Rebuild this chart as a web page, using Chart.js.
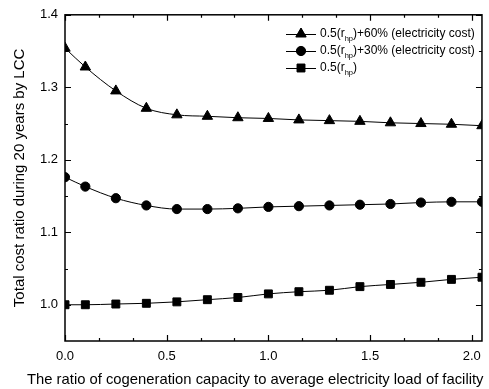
<!DOCTYPE html>
<html lang="en">
<head>
  <meta charset="UTF-8" />
  <title>Total cost ratio by LCC</title>
  <script src="https://cdn.jsdelivr.net/npm/chart.js"></script>
  <style>
    html, body { margin: 0; padding: 0; background: #fff; }
    #wrap { width: 489px; height: 389px; position: relative; }
  </style>
</head>
<body>
  <div id="wrap"><canvas id="costChart"></canvas></div>

  <script>
    // capacity ratio (x) shared by all three series
    const capacityRatio = [0, 0.1, 0.25, 0.4, 0.55, 0.7, 0.85, 1.0, 1.15, 1.3, 1.45, 1.6, 1.75, 1.9, 2.05];
    const cost60 = [1.354, 1.328, 1.295, 1.271, 1.262, 1.260, 1.258, 1.257, 1.255, 1.254, 1.253, 1.251, 1.250, 1.249, 1.247];
    const cost30 = [1.176, 1.163, 1.147, 1.137, 1.132, 1.132, 1.133, 1.135, 1.136, 1.137, 1.138, 1.139, 1.141, 1.142, 1.142];
    const costBase = [1.000, 1.000, 1.001, 1.002, 1.004, 1.007, 1.010, 1.015, 1.018, 1.020, 1.025, 1.028, 1.031, 1.035, 1.038];

    const xTicks = [0, 0.5, 1.0, 1.5, 2.0];
    const yTicks = [1.0, 1.1, 1.2, 1.3, 1.4];
    const xTitle = "The ratio of cogeneration capacity to average electricity load of facility";
    const yTitle = "Total cost ratio during 20 years by LCC";
    const seriesLabels = [
      ["0.5(r", "hp", ")+60% (electricity cost)"],
      ["0.5(r", "hp", ")+30% (electricity cost)"],
      ["0.5(r", "hp", ")"]
    ];
    const seriesMarkers = ["triangle", "circle", "rect"];
    const markerSizes = [6, 4.6, 5.6];

    const FONT = "'Liberation Sans', Arial, sans-serif";

    function toPoints(ys) {
      return capacityRatio.map((x, i) => ({ x: x, y: ys[i] }));
    }

    // frame + inward ticks on all four sides, Origin style
    const framePlugin = {
      id: "frame",
      afterDraw(chart) {
        const { ctx, chartArea: a, scales: { x, y } } = chart;
        ctx.save();
        ctx.strokeStyle = "#000";
        ctx.lineWidth = 1.5;
        ctx.strokeRect(a.left, a.top, a.right - a.left, a.bottom - a.top);
        ctx.lineWidth = 1.2;
        ctx.beginPath();
        for (let k = 0; k <= 12; k++) {
          const v = k / 6;
          const px = Math.round(x.getPixelForValue(v)) + 0.5;
          const len = (k % 3 === 0) ? 6 : 3;
          ctx.moveTo(px, a.bottom); ctx.lineTo(px, a.bottom - len);
          ctx.moveTo(px, a.top); ctx.lineTo(px, a.top + len);
        }
        for (let k = 0; k <= 8; k++) {
          const v = 1.0 + k * 0.05;
          const py = Math.round(y.getPixelForValue(v)) + 0.5;
          const len = (k % 2 === 0) ? 6 : 3;
          ctx.moveTo(a.left, py); ctx.lineTo(a.left + len, py);
          ctx.moveTo(a.right, py); ctx.lineTo(a.right - len, py);
        }
        ctx.stroke();

        // x axis title, left-anchored like the original figure (runs to the right edge)
        ctx.fillStyle = "#000";
        ctx.font = "14.8px " + FONT;
        ctx.textAlign = "left";
        ctx.textBaseline = "middle";
        ctx.fillText(xTitle, 27, 380);
        ctx.restore();
      }
    };

    // legend with subscripted "hp"
    const legendPlugin = {
      id: "subLegend",
      afterDraw(chart) {
        const ctx = chart.ctx;
        const rows = [34, 51, 68];
        const lineX0 = 286, lineX1 = 316, textX = 320;
        ctx.save();
        rows.forEach((ry, i) => {
          ctx.strokeStyle = "#000";
          ctx.lineWidth = 1;
          ctx.beginPath();
          ctx.moveTo(lineX0, ry + 0.5); ctx.lineTo(lineX1, ry + 0.5);
          ctx.stroke();
          ctx.fillStyle = "#000";
          Chart.helpers.drawPoint(ctx, { pointStyle: seriesMarkers[i], radius: markerSizes[i], rotation: 0, borderWidth: 1 }, (lineX0 + lineX1) / 2, ry);
          ctx.fill();
          const [a, sub, b] = seriesLabels[i];
          ctx.textBaseline = "middle";
          ctx.textAlign = "left";
          ctx.font = "12px " + FONT;
          let tx = textX;
          ctx.fillText(a, tx, ry);
          tx += ctx.measureText(a).width;
          ctx.font = "7.5px " + FONT;
          ctx.fillText(sub, tx, ry + 5);
          tx += ctx.measureText(sub).width;
          ctx.font = "12px " + FONT;
          ctx.fillText(b, tx, ry);
        });
        ctx.restore();
      }
    };

    function makeSet(label, ys, idx) {
      return {
        label: label,
        data: toPoints(ys),
        borderColor: "#000",
        backgroundColor: "#000",
        borderWidth: 1,
        pointStyle: seriesMarkers[idx],
        pointRadius: markerSizes[idx],
        pointBackgroundColor: "#000",
        pointBorderColor: "#000",
        cubicInterpolationMode: "monotone",
        fill: false
      };
    }

    const ctx = document.getElementById("costChart").getContext("2d");
    new Chart(ctx, {
      type: "line",
      data: {
        datasets: [
          makeSet(seriesLabels[0].join(""), cost60, 0),
          makeSet(seriesLabels[1].join(""), cost30, 1),
          makeSet(seriesLabels[2].join(""), costBase, 2)
        ]
      },
      options: {
        responsive: true,
        maintainAspectRatio: false,
        animation: false,
        layout: { padding: { top: 14, right: 7, left: 0, bottom: 0 } },
        scales: {
          x: {
            type: "linear",
            min: 0,
            max: 2.05,
            afterBuildTicks: axis => { axis.ticks = xTicks.map(v => ({ value: v })); },
            afterFit: axis => { axis.height = 48; },
            grid: { display: false, drawTicks: false },
            border: { display: false },
            ticks: {
              padding: 8,
              color: "#000",
              font: { family: FONT, size: 13 },
              callback: v => v.toFixed(1),
              maxRotation: 0
            }
          },
          y: {
            min: 0.95,
            max: 1.4,
            afterBuildTicks: axis => { axis.ticks = yTicks.map(v => ({ value: v })); },
            afterFit: axis => { axis.width = 65; },
            grid: { display: false, drawTicks: false },
            border: { display: false },
            ticks: {
              padding: 7,
              color: "#000",
              font: { family: FONT, size: 13 },
              callback: v => v.toFixed(1)
            },
            title: {
              display: true,
              text: yTitle,
              color: "#000",
              font: { family: FONT, size: 15 },
              padding: { top: 11, bottom: 4 }
            }
          }
        },
        plugins: {
          legend: { display: false },
          tooltip: { enabled: false }
        }
      },
      plugins: [framePlugin, legendPlugin]
    });
  </script>
</body>
</html>
